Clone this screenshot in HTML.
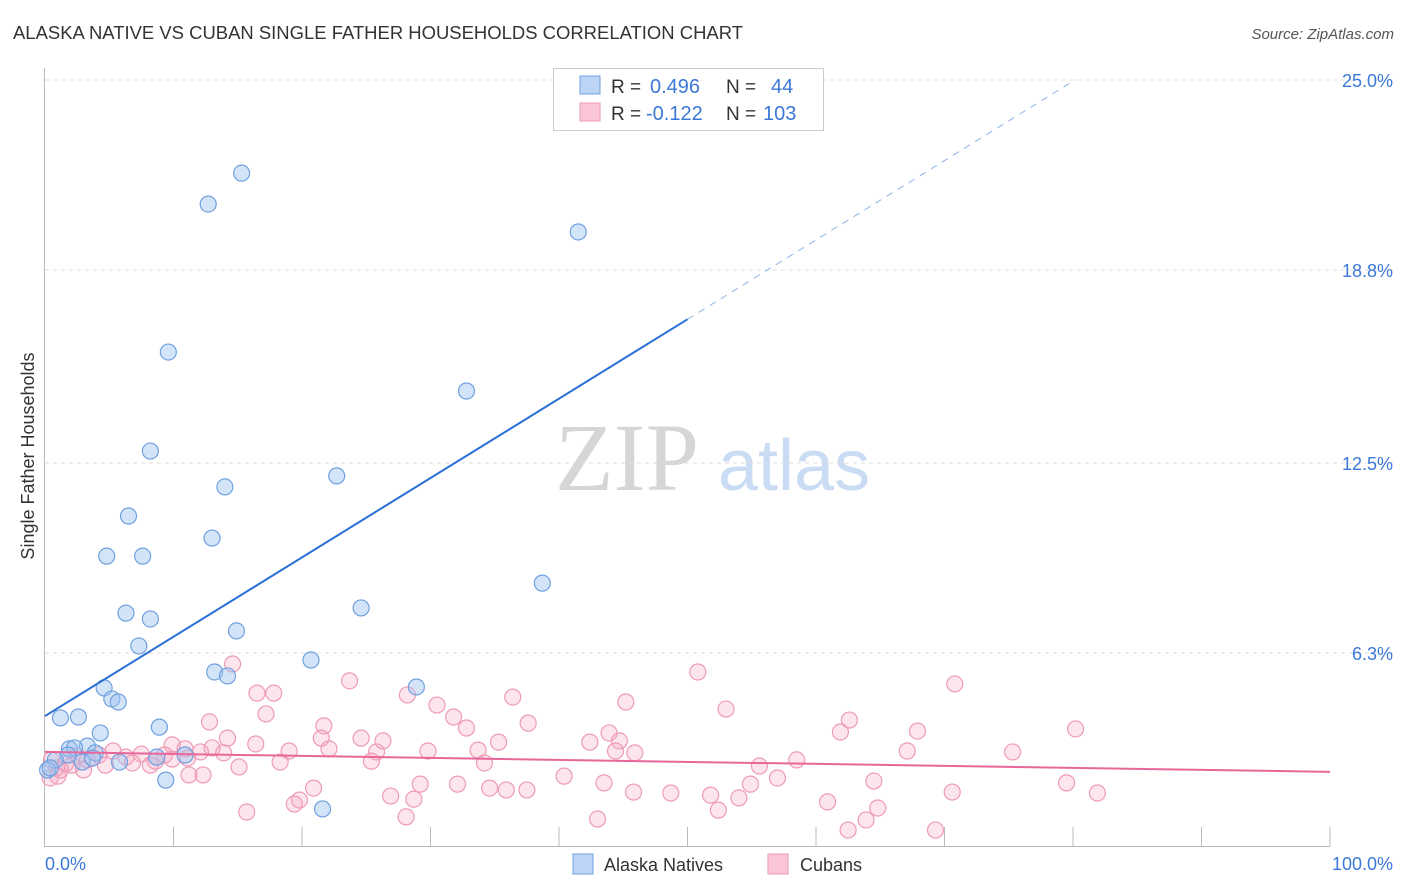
<!DOCTYPE html>
<html><head><meta charset="utf-8"><style>
body{margin:0;background:#fff;font-family:"Liberation Sans",sans-serif}
svg{display:block}
</style></head><body>
<svg id="chart" width="1406" height="892" viewBox="0 0 1406 892" xmlns="http://www.w3.org/2000/svg">
<text x="13" y="39" font-size="18" fill="#333" textLength="730" lengthAdjust="spacingAndGlyphs">ALASKA NATIVE VS CUBAN SINGLE FATHER HOUSEHOLDS CORRELATION CHART</text>
<text x="1394" y="39" font-size="15" fill="#555" font-style="italic" text-anchor="end">Source: ZipAtlas.com</text>
<text transform="translate(34,456) rotate(-90)" font-size="18" fill="#333" text-anchor="middle">Single Father Households</text>
<g>
<text x="555" y="490" font-family="Liberation Serif,serif" font-size="96" fill="#d6d6d6">ZIP</text>
<text x="718" y="490" font-size="72" fill="#c9dcf3">atlas</text>
</g>
<g id="grid"></g>
<g id="axes"></g>
<g id="marks"></g>
<g>
<rect x="553.5" y="68.5" width="270" height="62" fill="#fff" stroke="#ccc"/>
<rect x="580" y="76" width="20" height="18" fill="#bcd4f5" stroke="#6fa0e0"/>
<rect x="580" y="103" width="20" height="18" fill="#fac6d6" stroke="#ef9ab6"/>
<text x="611" y="93" font-size="19" fill="#333">R =</text>
<text x="650" y="93" font-size="20" fill="#3b78d8">0.496</text>
<text x="726" y="93" font-size="19" fill="#333">N =</text>
<text x="771" y="93" font-size="20" fill="#3b78d8">44</text>
<text x="611" y="120" font-size="19" fill="#333">R =</text>
<text x="646" y="120" font-size="20" fill="#3b78d8">-0.122</text>
<text x="726" y="120" font-size="19" fill="#333">N =</text>
<text x="763" y="120" font-size="20" fill="#3b78d8">103</text>
</g>
<g>
<rect x="573" y="854" width="20" height="20" fill="#bcd4f5" stroke="#6fa0e0"/>
<text x="604" y="871" font-size="18" fill="#333">Alaska Natives</text>
<rect x="768" y="854" width="20" height="20" fill="#fac6d6" stroke="#ef9ab6"/>
<text x="800" y="871" font-size="18" fill="#333">Cubans</text>
</g>
</svg>
<script>
const yTicks=[25.0,18.8,12.5,6.3];
const yTickLabels=["25.0%","18.8%","12.5%","6.3%"];
const xTicks=[10,20,30,40,50,60,70,80,90,100];
const xLabels=["0.0%","100.0%"];
const blueX=[15.3,12.7,41.5,9.6,32.8,8.2,22.7,14.0,6.5,13.0,4.8,7.6,38.7,24.6,6.3,8.2,14.9,7.3,20.7,13.2,14.2,4.6,28.9,5.2,5.7,1.2,2.6,8.9,4.3,3.3,1.9,2.3,1.8,3.9,8.7,10.9,0.8,2.9,5.8,0.2,9.4,21.6,0.4,3.7];
const blueY=[21.96,20.95,20.04,16.12,14.85,12.89,12.08,11.72,10.77,10.05,9.46,9.46,8.58,7.77,7.60,7.41,7.02,6.53,6.07,5.68,5.55,5.16,5.19,4.80,4.70,4.18,4.21,3.88,3.69,3.26,3.17,3.20,2.97,3.04,2.90,2.97,2.81,2.74,2.74,2.48,2.15,1.21,2.55,2.87];
const pinkX=[14.6,50.8,23.7,70.8,16.5,17.8,28.2,36.4,45.2,30.5,53.0,17.2,31.8,12.8,62.6,21.7,32.8,37.6,80.2,67.9,61.9,43.9,24.6,14.2,44.7,35.3,42.4,21.5,26.3,16.4,9.9,13.0,19.0,22.1,29.8,33.7,45.9,44.4,25.8,67.1,75.3,10.9,12.1,13.9,5.3,6.3,7.5,9.3,4.2,2.5,3.3,0.5,0.9,1.6,2.1,3.0,4.7,6.8,8.2,8.6,9.9,11.1,18.3,25.4,34.2,58.5,55.6,15.1,11.2,12.3,40.4,57.0,64.5,54.9,29.2,32.1,43.5,79.5,34.6,35.9,37.5,20.9,45.8,48.7,51.8,70.6,81.9,26.9,28.7,54.0,19.8,19.4,60.9,52.4,64.8,15.7,43.0,28.1,63.9,62.5,69.3,0.4,1.0,1.2];
const pinkY=[5.94,5.68,5.39,5.29,4.99,4.99,4.93,4.86,4.70,4.60,4.47,4.31,4.21,4.05,4.11,3.92,3.85,4.01,3.82,3.75,3.72,3.69,3.52,3.52,3.43,3.39,3.39,3.52,3.43,3.33,3.30,3.20,3.10,3.17,3.10,3.13,3.04,3.10,3.07,3.10,3.07,3.17,3.07,3.04,3.10,2.90,3.00,2.97,2.97,2.94,2.81,2.81,2.55,2.68,2.64,2.48,2.64,2.71,2.64,2.77,2.84,2.87,2.74,2.77,2.71,2.81,2.61,2.58,2.32,2.32,2.28,2.22,2.12,2.02,2.02,2.02,2.06,2.06,1.89,1.83,1.83,1.89,1.76,1.73,1.66,1.76,1.73,1.63,1.53,1.57,1.50,1.37,1.44,1.17,1.24,1.11,0.88,0.95,0.85,0.52,0.52,2.22,2.28,2.48];
const blueTrend=[4.24,0.259];
const pinkTrend=[3.07,-0.0065];
const NS="http://www.w3.org/2000/svg";
const X0=45,X1=1330,Y0=846,YPER=30.64;
function sx(v){return X0+(X1-X0)*v/100;}
function sy(v){return Y0-v*YPER;}
function mk(tag,attrs,parent){const e=document.createElementNS(NS,tag);for(const k in attrs)e.setAttribute(k,attrs[k]);parent.appendChild(e);return e;}
const grid=document.getElementById('grid'),axes=document.getElementById('axes'),marks=document.getElementById('marks');
yTicks.forEach((t,i)=>{
 const l=mk('line',{x1:45,x2:1395,y1:sy(t),y2:sy(t),stroke:'#ddd','stroke-dasharray':'4,4'},grid);
 
 
 const tx=mk('text',{x:1393,y:sy(t)+7,'font-size':18,fill:'#3b78d8','text-anchor':'end'},axes);
 tx.textContent=yTickLabels[i];
 
 
});
const ya=mk('line',{x1:44.5,x2:44.5,y1:68,y2:846,stroke:'#bbb'},axes);


const xa=mk('line',{x1:44,x2:1330,y1:846.5,y2:846.5,stroke:'#bbb'},axes);


xTicks.forEach(t=>{
 const l=mk('line',{x1:sx(t),x2:sx(t),y1:827,y2:846,stroke:'#bbb'},axes);
 
 
});
const xl0=mk('text',{x:45,y:870,'font-size':18,fill:'#3b78d8'},axes);xl0.textContent=xLabels[0];


const xl1=mk('text',{x:1393,y:870,'font-size':18,fill:'#3b78d8','text-anchor':'end'},axes);xl1.textContent=xLabels[1];


pinkX.forEach((x,i)=>{
 const c=mk('circle',{cx:sx(x),cy:sy(pinkY[i]),r:8,fill:'rgba(246,168,196,0.3)',stroke:'#ef9ab6','stroke-width':1.2},marks);
 
 
});
blueX.forEach((x,i)=>{
 const c=mk('circle',{cx:sx(x),cy:sy(blueY[i]),r:8,fill:'rgba(160,196,240,0.45)',stroke:'#6fa0e0','stroke-width':1.2},marks);
 
 
});
const bl=mk('line',{x1:sx(0),y1:sy(blueTrend[0]),x2:sx(50),y2:sy(blueTrend[0]+blueTrend[1]*50),stroke:'#2a6fd6','stroke-width':2},marks);


const xEnd=(25-blueTrend[0])/blueTrend[1];
const bd=mk('line',{x1:sx(50),y1:sy(blueTrend[0]+blueTrend[1]*50),x2:sx(xEnd),y2:sy(25),stroke:'#8fb3e6','stroke-width':1,'stroke-dasharray':'7,6'},marks);


const pl=mk('line',{x1:sx(0),y1:sy(pinkTrend[0]),x2:sx(100),y2:sy(pinkTrend[0]+pinkTrend[1]*100),stroke:'#e8679a','stroke-width':2},marks);


</script>
</body></html>
